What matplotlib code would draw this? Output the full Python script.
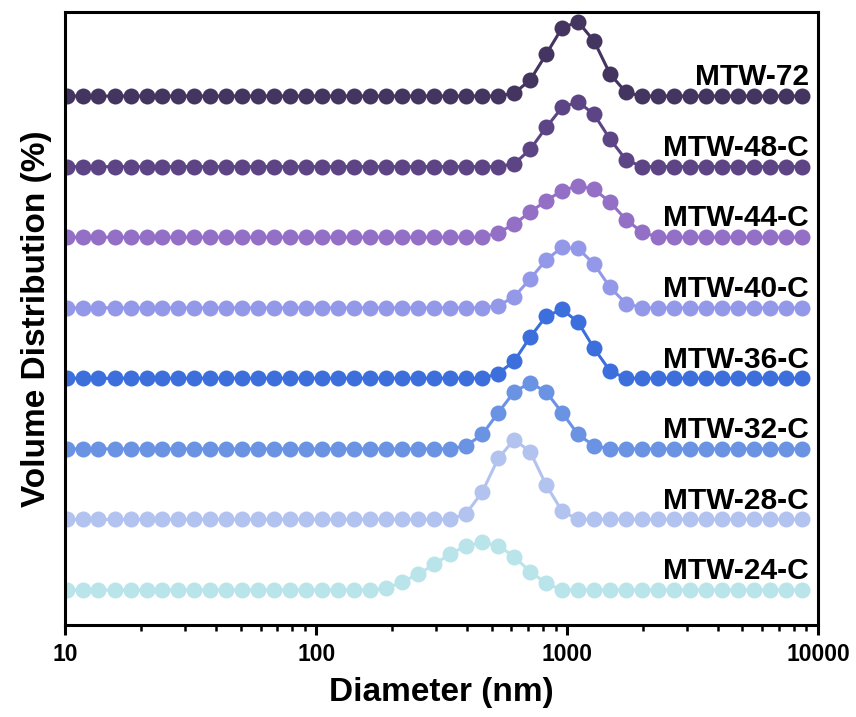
import matplotlib
matplotlib.use("Agg")
import matplotlib.pyplot as plt
import matplotlib.transforms as mtransforms
from matplotlib.ticker import LogLocator, NullFormatter, FixedLocator, FixedFormatter

plt.rcParams['font.family'] = ['Liberation Sans', 'DejaVu Sans']
plt.rcParams['font.weight'] = 'bold'

# particle size bins (nm)
diameter = [10.10, 11.70, 13.54, 15.69, 18.17, 21.04, 24.36, 28.21, 32.67, 37.84,
            43.82, 50.75, 58.77, 68.06, 78.82, 91.28, 105.7, 122.4, 141.8, 164.2,
            190.1, 220.2, 255.0, 295.3, 342.0, 396.1, 458.7, 531.2, 615.1, 712.4,
            825.0, 955.4, 1106, 1281, 1484, 1718, 1990, 2305, 2669, 3091,
            3580, 4145, 4801, 5560, 6439, 7456, 8635]

vol_24 = [0, 0, 0, 0, 0, 0, 0, 0, 0, 0,
          0, 0, 0, 0, 0, 0, 0, 0, 0, 0,
          0.6, 2.9, 5.6, 9.1, 12.8, 15.6, 16.9, 15.7, 11.8, 6.5,
          2.4, 0, 0, 0, 0, 0, 0, 0, 0, 0,
          0, 0, 0, 0, 0, 0, 0]
vol_28 = [0, 0, 0, 0, 0, 0, 0, 0, 0, 0,
          0, 0, 0, 0, 0, 0, 0, 0, 0, 0,
          0, 0, 0, 0, 0, 2.1, 9.7, 21.6, 28.3, 24.0,
          12.2, 2.9, 0, 0, 0, 0, 0, 0, 0, 0,
          0, 0, 0, 0, 0, 0, 0]
vol_32 = [0, 0, 0, 0, 0, 0, 0, 0, 0, 0,
          0, 0, 0, 0, 0, 0, 0, 0, 0, 0,
          0, 0, 0, 0, 0, 1.1, 5.1, 12.8, 20.2, 23.4,
          20.2, 12.8, 5.1, 1.1, 0, 0, 0, 0, 0, 0,
          0, 0, 0, 0, 0, 0, 0]
vol_36 = [0, 0, 0, 0, 0, 0, 0, 0, 0, 0,
          0, 0, 0, 0, 0, 0, 0, 0, 0, 0,
          0, 0, 0, 0, 0, 0, 0, 1.7, 6.1, 14.6,
          22.0, 24.4, 19.9, 10.6, 2.6, 0, 0, 0, 0, 0,
          0, 0, 0, 0, 0, 0, 0]
vol_40 = [0, 0, 0, 0, 0, 0, 0, 0, 0, 0,
          0, 0, 0, 0, 0, 0, 0, 0, 0, 0,
          0, 0, 0, 0, 0, 0, 0, 0.7, 3.9, 10.2,
          17.0, 21.4, 21.0, 15.5, 7.2, 1.5, 0, 0, 0, 0,
          0, 0, 0, 0, 0, 0, 0]
vol_44 = [0, 0, 0, 0, 0, 0, 0, 0, 0, 0,
          0, 0, 0, 0, 0, 0, 0, 0, 0, 0,
          0, 0, 0, 0, 0, 0, 0, 1.6, 4.6, 8.9,
          12.9, 16.5, 18.2, 17.0, 12.4, 6.2, 1.8, 0, 0, 0,
          0, 0, 0, 0, 0, 0, 0]
vol_48 = [0, 0, 0, 0, 0, 0, 0, 0, 0, 0,
          0, 0, 0, 0, 0, 0, 0, 0, 0, 0,
          0, 0, 0, 0, 0, 0, 0, 0, 1.0, 6.1,
          13.9, 21.0, 23.0, 18.5, 9.7, 2.4, 0, 0, 0, 0,
          0, 0, 0, 0, 0, 0, 0]
vol_72 = [0, 0, 0, 0, 0, 0, 0, 0, 0, 0,
          0, 0, 0, 0, 0, 0, 0, 0, 0, 0,
          0, 0, 0, 0, 0, 0, 0, 0, 1.0, 5.7,
          14.8, 24.2, 26.3, 19.5, 7.8, 1.3, 0, 0, 0, 0,
          0, 0, 0, 0, 0, 0, 0]

labels = ["MTW-24-C", "MTW-28-C", "MTW-32-C", "MTW-36-C",
          "MTW-40-C", "MTW-44-C", "MTW-48-C", "MTW-72"]
colors = ["#b8e4ea", "#b3c3f0", "#6b93e3", "#3d6fdc",
          "#9399e8", "#9370c6", "#5d4585", "#433460"]
series = [vol_24, vol_28, vol_32, vol_36, vol_40, vol_44, vol_48, vol_72]
step = 25

fig = plt.figure(figsize=(8.56, 7.17), dpi=100)
ax = fig.add_axes([0.0765, 0.1283, 0.879, 0.855])

trans = mtransforms.blended_transform_factory(ax.transAxes, ax.transData)
for i, (vals, lab, col) in enumerate(zip(series, labels, colors)):
    y = [v + step * i for v in vals]
    ax.plot(diameter, y, '-o', color=col, lw=2.2, ms=11.5, mew=0)
    ax.text(0.988, step * i + 3.8, lab, transform=trans, ha='right', va='baseline',
            fontsize=21.5, fontweight='bold')

ax.set_xscale('log')
ax.set_xlim(10, 10000)
ax.set_ylim(-12.4, 204.8)
ax.xaxis.set_major_locator(FixedLocator([10, 100, 1000, 10000]))
ax.xaxis.set_major_formatter(FixedFormatter(["10", "100", "1000", "10000"]))
ax.xaxis.set_minor_locator(LogLocator(base=10, subs=range(2, 10)))
ax.xaxis.set_minor_formatter(NullFormatter())
ax.set_yticks([])

for s in ax.spines.values():
    s.set_linewidth(2.2)
ax.tick_params(axis='x', which='major', direction='out', length=7, width=2.2,
               labelsize=16.5, pad=6)
ax.tick_params(axis='x', which='minor', direction='out', length=4, width=1.8)
for t in ax.get_xticklabels():
    t.set_fontweight('bold')

ax.set_xlabel("Diameter (nm)", fontsize=24, fontweight='bold', labelpad=8)
ax.set_ylabel("Volume Distribution (%)", fontsize=24, fontweight='bold', labelpad=10)

fig.savefig("out.png", dpi=100)
